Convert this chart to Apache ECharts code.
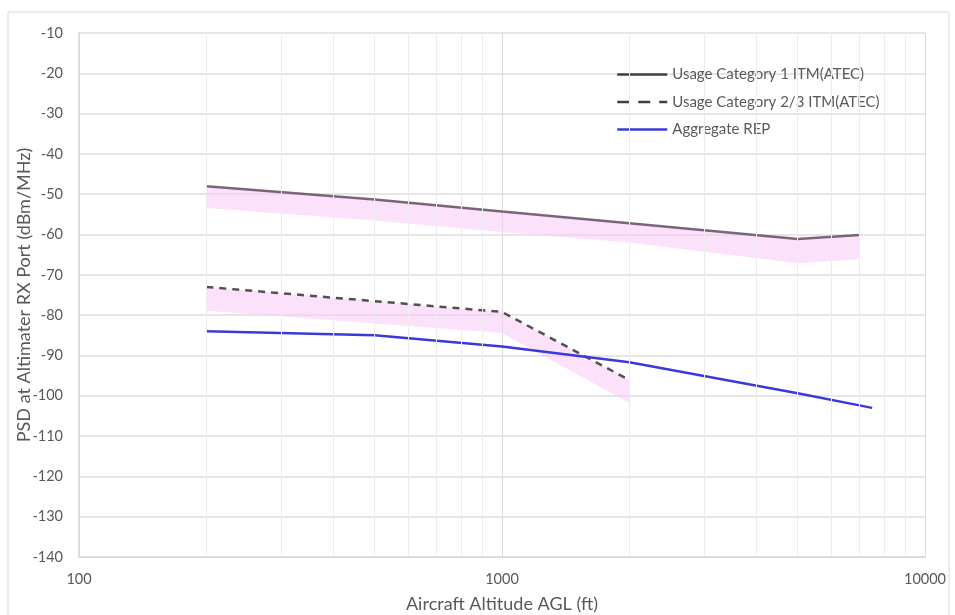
<!DOCTYPE html>
<html>
<head>
<meta charset="utf-8">
<script src="https://cdn.jsdelivr.net/npm/echarts@6/dist/echarts.min.js"></script>
<style>
  html, body { margin: 0; padding: 0; background: #fff; }
  #chart { width: 955px; height: 615px; }
</style>
</head>
<body>
<div id="chart"></div>
<script>
// altitudes (ft)
const cat1Alt = [200, 500, 1000, 2000, 5000, 7000];
const cat1Psd = [-48, -51.3, -54.3, -57.2, -61.1, -60.1];
const cat1Low = [-53.4, -56.5, -59.4, -62, -67.1, -66.1];

const cat23Alt = [200, 1000, 2000];
const cat23Psd = [-73, -79.2, -96.1];
const cat23Low = [-78.9, -84.4, -101.8];

const repAlt = [200, 500, 1000, 2000, 5000, 7500];
const repPsd = [-84, -85, -87.8, -91.7, -99.4, -103];

const minorLines = [200, 300, 400, 500, 600, 700, 800, 900,
  2000, 3000, 4000, 5000, 6000, 7000, 8000, 9000];

const FONT = 'Lato, "Open Sans", sans-serif';
const TXT = '#595959';

const chart = echarts.init(document.getElementById('chart'), null, { renderer: 'canvas' });

const pair = (xs, ys) => xs.map((x, i) => [x, ys[i]]);

// pink band between upper and lower curve, drawn as one polygon through the axes
const bandSeries = (name, xs, hi, lo) => ({
  name: name + ' band',
  type: 'custom',
  silent: true,
  z: 1,
  data: [[xs[0], hi[0]]],
  renderItem: (params, api) => {
    const top = xs.map((x, i) => api.coord([x, hi[i]]));
    const bottom = xs.map((x, i) => api.coord([x, lo[i]])).reverse();
    return {
      type: 'polygon',
      shape: { points: top.concat(bottom) },
      style: { fill: 'rgba(250, 200, 248, 0.55)' }
    };
  }
});

const legendLine = (name, color, type) => ({
  name,
  itemStyle: { opacity: 0 },
  lineStyle: { color, width: 2.5, type }
});

const option = {
  animation: false,
  backgroundColor: '#fff',
  textStyle: { fontFamily: FONT },
  graphic: [{
    type: 'rect',
    shape: { x: 8, y: 12, width: 941, height: 620 },
    style: { fill: 'none', stroke: '#d9d9d9', lineWidth: 1 },
    silent: true
  }],
  grid: { left: 79, right: 30, top: 33, bottom: 58, outerBoundsMode: 'none' },
  legend: {
    data: [
      legendLine('Usage Category 1 ITM(ATEC)', '#404040', 'solid'),
      legendLine('Usage Category 2/3 ITM(ATEC)', '#404040', [12, 9]),
      legendLine('Aggregate REP', '#3a3ad8', 'solid')
    ],
    orient: 'vertical',
    left: 611,
    top: 62,
    itemWidth: 50,
    itemHeight: 10,
    itemGap: 12.5,
    textStyle: { color: TXT, fontSize: 15, fontFamily: FONT }
  },
  xAxis: {
    type: 'log',
    logBase: 10,
    min: 100,
    max: 10000,
    name: 'Aircraft Altitude AGL (ft)',
    nameLocation: 'middle',
    nameGap: 38,
    nameMoveOverlap: false,
    nameTextStyle: { color: TXT, fontSize: 18, fontFamily: FONT },
    axisLine: { show: true, lineStyle: { color: '#d9d9d9', width: 1.5 } },
    axisTick: { show: false },
    axisLabel: {
      color: TXT, fontSize: 14.5, margin: 15, fontFamily: FONT,
      formatter: v => String(Math.round(v))
    },
    splitLine: { show: true, lineStyle: { color: '#d9d9d9', width: 1 } }
  },
  yAxis: {
    type: 'value',
    min: -140,
    max: -10,
    interval: 10,
    name: 'PSD at Altimater RX Port (dBm/MHz)',
    nameLocation: 'middle',
    nameGap: 46,
    nameMoveOverlap: false,
    nameTextStyle: { color: TXT, fontSize: 18, fontFamily: FONT },
    axisLine: { show: true, lineStyle: { color: '#d9d9d9', width: 1.5 } },
    axisTick: { show: false },
    axisLabel: { color: TXT, fontSize: 14.5, margin: 16, fontFamily: FONT },
    splitLine: { show: true, lineStyle: { color: '#e6e6e6', width: 2 } }
  },
  series: [
    {
      name: 'minor grid',
      type: 'line',
      data: [],
      silent: true,
      markLine: {
        silent: true,
        symbol: 'none',
        label: { show: false },
        lineStyle: { color: '#ededed', width: 1, type: 'solid' },
        data: minorLines.map(v => ({ xAxis: v }))
      },
      z: 0
    },
    bandSeries('cat1', cat1Alt, cat1Psd, cat1Low),
    bandSeries('cat23', cat23Alt, cat23Psd, cat23Low),
    {
      name: 'Usage Category 1 ITM(ATEC)',
      type: 'line',
      data: pair(cat1Alt, cat1Psd),
      symbol: 'none',
      lineStyle: { color: '#7a6578', width: 2.5 },
      itemStyle: { color: '#404040' },
      z: 3
    },
    {
      name: 'Usage Category 2/3 ITM(ATEC)',
      type: 'line',
      data: pair(cat23Alt, cat23Psd),
      symbol: 'none',
      lineStyle: { color: '#505050', width: 2.5, type: [7, 6] },
      itemStyle: { color: '#404040' },
      z: 3
    },
    {
      name: 'Aggregate REP',
      type: 'line',
      data: pair(repAlt, repPsd),
      symbol: 'none',
      lineStyle: { color: '#3a3ad8', width: 2.5 },
      itemStyle: { color: '#3a3ad8' },
      z: 3
    }
  ]
};

chart.setOption(option);
</script>
</body>
</html>
